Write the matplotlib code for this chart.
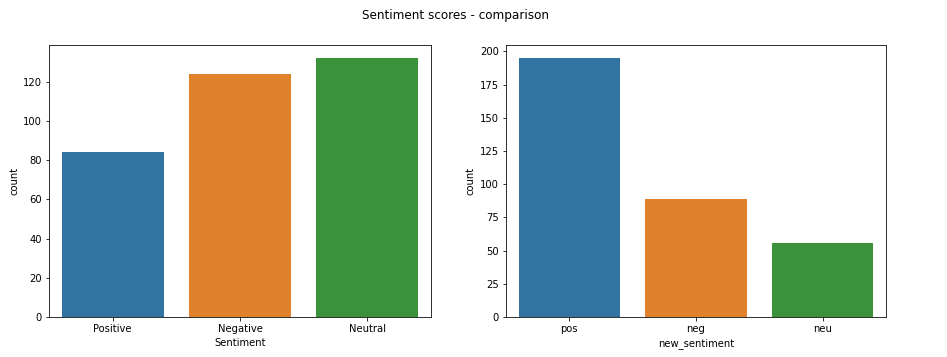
import matplotlib
matplotlib.use('Agg')
import matplotlib.pyplot as plt

# counts
sentiment_labels = ['Positive', 'Negative', 'Neutral']
sentiment_counts = [84, 124, 132]

new_labels = ['pos', 'neg', 'neu']
new_counts = [195, 89, 56]

# seaborn countplot colours (tab10 with saturation 0.75)
colors = ['#3274a1', '#e1812c', '#3a923a']

plt.rcParams['font.size'] = 10

fig = plt.figure(figsize=(947 / 72, 357 / 72), dpi=72)
fig.suptitle('Sentiment scores - comparison', x=455 / 947, y=1 - 15 / 357, va='center', fontsize=12)

ax1 = fig.add_axes([49 / 947, 40 / 357, 382 / 947, 272 / 357])
ax2 = fig.add_axes([506 / 947, 40 / 357, 380 / 947, 272 / 357])

for ax, labels, counts, xlabel in [(ax1, sentiment_labels, sentiment_counts, 'Sentiment'),
                                   (ax2, new_labels, new_counts, 'new_sentiment')]:
    ax.bar(range(len(labels)), counts, width=0.8, color=colors)
    ax.set_xticks(range(len(labels)))
    ax.set_xticklabels(labels)
    ax.set_xlim(-0.5, len(labels) - 0.5)
    ax.set_xlabel(xlabel)
    ax.set_ylabel('count')

fig.savefig('out.png', dpi=72)
